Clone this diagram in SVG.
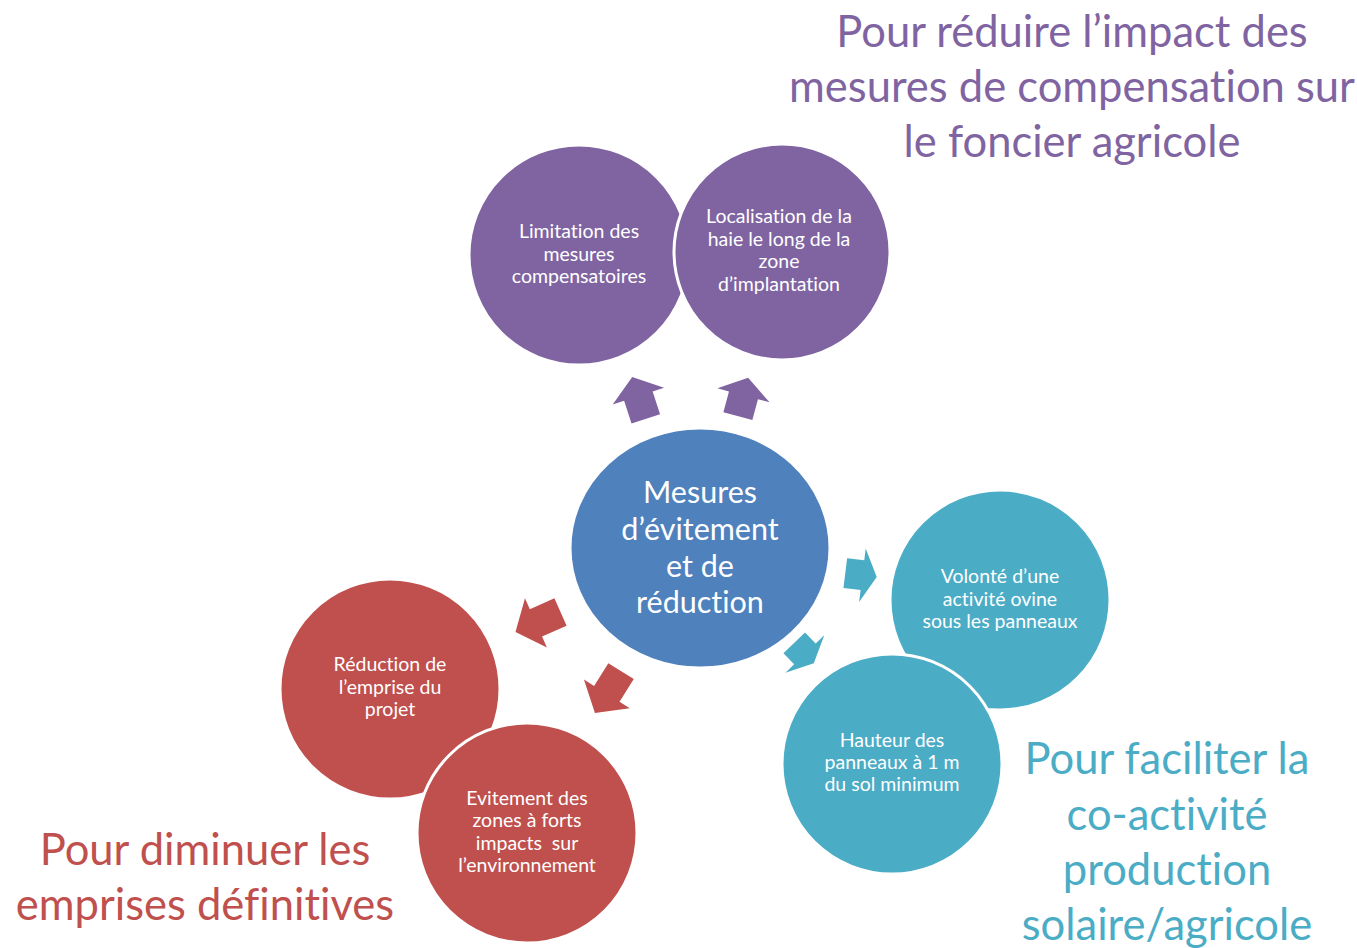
<svg xmlns="http://www.w3.org/2000/svg" width="1357" height="948" viewBox="0 0 1357 948">
  <style>
    text { font-family: Lato, "Liberation Sans", sans-serif; text-anchor: middle; font-variant-ligatures: none; }
    .node { stroke: #ffffff; stroke-width: 3; }
    .purple { fill: #8064A2; }
    .blue { fill: #4F81BD; }
    .red { fill: #C0504D; }
    .teal { fill: #4BACC6; }
    .label { fill: #ffffff; font-size: 19.5px; }
    .center-label { fill: #ffffff; font-size: 30.5px; }
    .heading { font-size: 43.5px; }
    .h-purple { fill: #8064A2; }
    .h-red { fill: #C0504D; }
    .h-teal { fill: #4BACC6; }
  </style>
  <defs>
    <!-- block arrow pointing up, centred on the origin, 44 long -->
    <path id="blockArrow" d="M0,-22 L27,-2 L15,-2 L15,22 L-15,22 L-15,-2 L-27,-2 Z"/>
  </defs>

  <rect width="1357" height="948" fill="#ffffff"/>

  <!-- headings -->
  <g id="heading-foncier" class="heading h-purple">
    <text x="1072" y="47">Pour réduire l’impact des</text>
    <text x="1072" y="102">mesures de compensation sur</text>
    <text x="1072" y="157">le foncier agricole</text>
  </g>
  <g id="heading-emprises" class="heading h-red">
    <text x="205" y="865">Pour diminuer les</text>
    <text x="205" y="920">emprises définitives</text>
  </g>
  <g id="heading-coactivite" class="heading h-teal">
    <text x="1167" y="774">Pour faciliter la</text>
    <text x="1167" y="830">co-activité</text>
    <text x="1167" y="885">production</text>
    <text x="1167" y="940">solaire/agricole</text>
  </g>

  <!-- connectors: block arrows radiating from the centre -->
  <g id="connectors">
    <use href="#blockArrow" class="purple" transform="translate(639,398) rotate(-18)"/>
    <use href="#blockArrow" class="purple" transform="translate(743,397) rotate(15) scale(1,0.9)"/>
    <use href="#blockArrow" class="red" transform="translate(538,622) rotate(-114) scale(1,1.12)"/>
    <use href="#blockArrow" class="red" transform="translate(608,692) rotate(-148) scale(1,1.12)"/>
    <use href="#blockArrow" class="teal" transform="translate(861,575) rotate(97) scale(1,0.72)"/>
    <use href="#blockArrow" class="teal" transform="translate(804,653) rotate(136) scale(1,0.64)"/>
  </g>

  <!-- centre -->
  <g id="node-centre">
    <ellipse class="node blue" cx="700" cy="548" rx="130" ry="120"/>
    <text class="center-label" x="700" y="503">Mesures</text>
    <text class="center-label" x="700" y="540">d’évitement</text>
    <text class="center-label" x="700" y="577">et de</text>
    <text class="center-label" x="700" y="613">réduction</text>
  </g>

  <!-- purple pair -->
  <g id="node-limitation">
    <circle class="node purple" cx="579" cy="255" r="110"/>
    <text class="label" x="579" y="238">Limitation des</text>
    <text class="label" x="579" y="261">mesures</text>
    <text class="label" x="579" y="283">compensatoires</text>
  </g>
  <g id="node-localisation">
    <circle class="node purple" cx="782" cy="252" r="108"/>
    <text class="label" x="779" y="223">Localisation de la</text>
    <text class="label" x="779" y="246">haie le long de la</text>
    <text class="label" x="779" y="268">zone</text>
    <text class="label" x="779" y="291">d’implantation</text>
  </g>

  <!-- red pair -->
  <g id="node-reduction">
    <circle class="node red" cx="390" cy="689" r="110"/>
    <text class="label" x="390" y="671">Réduction de</text>
    <text class="label" x="390" y="694">l’emprise du</text>
    <text class="label" x="390" y="716">projet</text>
  </g>
  <g id="node-evitement">
    <circle class="node red" cx="527" cy="833" r="110"/>
    <text class="label" x="527" y="805">Evitement des</text>
    <text class="label" x="527" y="827">zones à forts</text>
    <text class="label" x="527" y="850" xml:space="preserve">impacts  sur</text>
    <text class="label" x="527" y="872">l’environnement</text>
  </g>

  <!-- teal pair -->
  <g id="node-ovine">
    <circle class="node teal" cx="1000" cy="600" r="110"/>
    <text class="label" x="1000" y="583">Volonté d’une</text>
    <text class="label" x="1000" y="606">activité ovine</text>
    <text class="label" x="1000" y="628">sous les panneaux</text>
  </g>
  <g id="node-hauteur">
    <circle class="node teal" cx="892" cy="764" r="110"/>
    <text class="label" x="892" y="747">Hauteur des</text>
    <text class="label" x="892" y="769">panneaux à 1 m</text>
    <text class="label" x="892" y="791">du sol minimum</text>
  </g>
</svg>
